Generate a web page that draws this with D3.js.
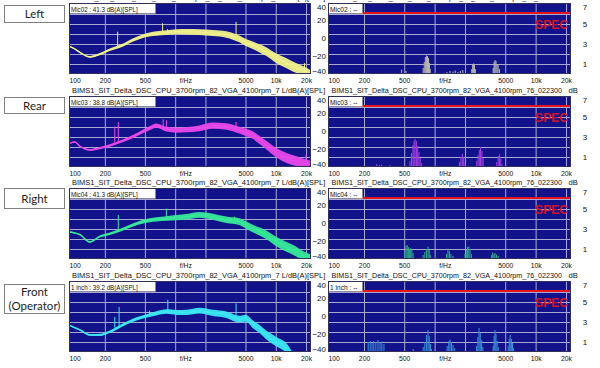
<!DOCTYPE html>
<html><head><meta charset="utf-8">
<script src="https://cdn.jsdelivr.net/npm/d3@7"></script>
<style>body{margin:0;background:#fff}svg{display:block}</style>
</head><body>
<svg id="c" width="600" height="368"></svg>
<script>
// ---------------- data ----------------
const rowNames = [["Left"], ["Rear"], ["Right"], ["Front", "(Operator)"]];
const micNames = ["Mic02", "Mic03", "Mic04", "1 inch"];
const micLevels = ["41.3", "38.8", "41.3", "39.2"];
const leftTitle = "BIMS1_SIT_Delta_DSC_CPU_3700rpm_82_VGA_4100rpm_7 L/dB(A)[SPL]";
const rightTitle = "BIMS1_SIT_Delta_DSC_CPU_3700rpm_82_VGA_4100rpm_76_022300";
const rightUnit = "dB";

const xTickValues = [100, 200, 500, 1000, 5000, 10000, 20000];
const xTickLabels = ["100", "200", "500", "f/Hz", "5000", "10k", "20k"];
const gridFreqs = [200, 500, 1000, 2000, 5000, 10000, 20000];
const dbTicks = [40, 20, 0, -20, -40];
const unitTicks = [7, 5, 3, 1];
const unitGrid = [1, 2, 3, 4, 5, 6];
const specLevel = 6.1;
const specStartFreq = 160;

// SPL spectra (dB) on a shared frequency grid
const freqGrid = [88, 100, 113, 142, 178, 224, 300, 383, 556, 650, 818, 1030, 1300, 1740, 2370, 3220, 4340, 5040, 5900, 6900, 8020, 10100, 12800, 14900, 19300, 22400];
const splLeft  = [-9, -12, -16, -21, -18, -13, -8, -2, 4, 5, 6, 7, 7, 6.5, 5.5, 4, -1, -5, -8, -11.5, -15, -22.5, -28, -32, -37, -41];
const splRear  = [-14, -12, -17, -21, -19, -16, -11, -6, 3, 6, 2, 1, 1.5, 3, 6, 5, 1, -1.5, -4.5, -10, -15.5, -24, -30, -32.5, -36, -38];
const splRight = [-10, -11, -13, -21, -15, -12, -7, -2, 3, 4, 5, 6, 7, 9, 7, 3.5, 1.5, -2, -6, -9.5, -13, -20.5, -26.5, -30, -37, -40];
const splFront = [-10, -13, -15.5, -21, -21, -17.5, -10, -4.5, 1, 3, 5, 4, 4, 6, 3.5, 1.5, -3.5, -2.5, -9, -14.5, -21, -28.5, -36, -47, null, null];
const noiseHalfWidth = [0.7, 0.7, 0.8, 1, 1.2, 1.4, 1.6, 1.8, 2.2, 2.4, 2.6, 2.8, 3, 3.2, 3.4, 3.6, 3.8, 4, 4.2, 4.5, 4.8, 5.2, 5.5, 5.5, 5, 5];

// tonal spikes: [freq, base dB, top dB]
const spikesLeft  = [[268, -11, 7], [750, 5, 16.5], [840, 6, 10], [4030, 0, 18], [19300, -36, -28]];
const spikesRear  = [[251, -13, 5], [272, -12, 10], [760, 2, 13], [818, 2, 12], [4030, 1, 10], [20000, -36, -26]];
const spikesRight = [[272, -9, 9], [818, 5, 16], [3900, 2, 7]];
const spikesFront = [[251, -13, -1], [277, -12, 10], [556, 1, 6], [845, 5, 18], [4030, -3, 14]];

// right-hand spectra: [freq, value on 0..7 scale]
const barsLeft = [[471, 0.45], [520, 0.3],
  [770, 0.6], [790, 1.2], [810, 1.7], [830, 1.85], [850, 1.8], [870, 1.6], [890, 1.1], [905, 0.5],
  [1320, 0.2], [1420, 0.3], [1520, 0.25], [1600, 0.35], [1700, 0.2], [1800, 0.3], [1900, 0.4],
  [2330, 0.5], [2380, 0.9], [2430, 1.05], [2480, 0.95], [2530, 0.5],
  [3800, 0.6], [3880, 1.2], [3960, 1.4], [4050, 1.3], [4150, 1.0], [4250, 0.9], [4380, 0.5]];
const barsRear = [[267, 0.3], [285, 0.2], [299, 0.25], [362, 0.2],
  [570, 0.6], [590, 1.4], [610, 2.2], [625, 2.6], [640, 2.8], [660, 2.6], [680, 2.1], [700, 1.5], [720, 0.9], [745, 0.4],
  [1760, 0.5], [1820, 1.0], [1880, 1.3], [1940, 1.0], [2000, 0.4],
  [2610, 0.6], [2690, 1.2], [2770, 1.7], [2850, 2.0], [2940, 1.6], [3020, 0.9],
  [4120, 0.5], [4260, 1.1], [4400, 1.3], [4520, 0.8], [4640, 0.3]];
const barsRight = [[508, 0.8], [522, 1.3], [536, 1.4], [550, 1.2], [565, 1.0], [580, 1.1], [595, 0.9], [612, 0.6],
  [770, 0.4], [800, 0.7], [830, 1.0], [860, 1.25], [885, 0.9], [905, 0.4],
  [1310, 0.5], [1355, 1.05], [1400, 0.8], [1450, 0.5], [1520, 0.3],
  [2000, 0.5], [2060, 0.9], [2120, 1.2], [2180, 1.25], [2240, 1.0], [2310, 0.5],
  [3670, 0.4], [3760, 0.65], [3860, 0.5], [3960, 0.6], [4100, 0.45], [4260, 0.3]];
const barsFront = [[220, 1.0], [230, 1.1], [240, 0.9], [250, 1.1], [262, 1.0], [275, 1.2], [288, 1.0], [300, 1.05], [315, 0.8],
  [614, 0.3],
  [770, 0.5], [800, 1.0], [830, 1.7], [860, 2.2], [885, 1.6], [910, 0.8], [930, 0.3],
  [1330, 0.6], [1380, 1.1], [1420, 1.25], [1470, 1.0], [1520, 0.7], [1580, 0.4],
  [2600, 0.6], [2680, 1.5], [2750, 2.4], [2830, 1.9], [2920, 1.2], [3000, 0.5],
  [3800, 0.6], [3880, 1.6], [3960, 2.2], [4050, 1.8], [4150, 1.1], [4260, 0.5],
  [5350, 0.6], [5480, 1.3], [5600, 1.7], [5750, 1.3], [5900, 0.9], [6050, 0.4]];

const lineColors = ["#f2f28a", "#e848e8", "#38ea98", "#3ce8f2"];
const barColors = ["#b4b4b4", "#a040e0", "#2ea88a", "#3a8ed8"];

// ---------------- layout ----------------
const rowBottoms = [74, 167, 259, 352];
const plotH = 71;
const LX0 = 69, LX1 = 311, RX0 = 328, RX1 = 571;
const fDomain = [88, 22400];
const NAVY = "#12128a", GRID = "#a8a8d4", FONT = "'Liberation Sans', Arial, sans-serif";
const labelBoxY = [5, 97, 188, 284], labelBoxH = [17, 16, 20, 29];

const rows = [0, 1, 2, 3].map(i => ({
  names: rowNames[i], mic: micNames[i], level: micLevels[i],
  spl: [splLeft, splRear, splRight, splFront][i],
  spikes: [spikesLeft, spikesRear, spikesRight, spikesFront][i],
  bars: [barsLeft, barsRear, barsRight, barsFront][i],
  lc: lineColors[i], bc: barColors[i]
}));

const svg = d3.select("#c");
const defs = svg.append("defs");

// condensed text helper (the source screenshot is horizontally squeezed)
function sText(parent, x, y, txt, size, sx, opts = {}) {
  const t = parent.append("text")
    .attr("transform", `translate(${x},${y}) scale(${sx},1)`)
    .attr("font-family", FONT).attr("font-size", size)
    .attr("fill", opts.fill || "#111")
    .attr("text-anchor", opts.anchor || "start")
    .text(txt);
  if (opts.bold) t.attr("font-weight", "bold");
  return t;
}

rows.forEach((r, i) => {
  const bottom = rowBottoms[i], top = bottom - plotH;
  const xL = d3.scaleLog().domain(fDomain).range([LX0, LX1]);
  const xR = d3.scaleLog().domain(fDomain).range([RX0, RX1]);
  const yDb = d3.scaleLinear().domain([-40, 38.9]).range([bottom, top]);
  const yU = d3.scaleLinear().domain([0, 7.1]).range([bottom, top]);
  const g = svg.append("g");

  ["L", "R"].forEach(s => {
    defs.append("clipPath").attr("id", `clip${s}${i}`).append("rect")
      .attr("x", s === "L" ? LX0 : RX0).attr("y", top)
      .attr("width", s === "L" ? LX1 - LX0 : RX1 - RX0).attr("height", plotH);
  });

  // titles
  sText(g, 72, top - 3, leftTitle, 8, 0.935);
  sText(g, 331.5, top - 3, rightTitle, 8, 0.895);
  sText(g, 568.5, top - 3, rightUnit, 8, 0.95);

  // row label box
  g.append("rect").attr("x", 4.5).attr("y", labelBoxY[i] + 0.5).attr("width", 60).attr("height", labelBoxH[i])
    .attr("fill", "#fff").attr("stroke", "#808080");
  const n = r.names.length;
  r.names.forEach((t, k) => {
    g.append("text").attr("x", 34.5)
      .attr("y", labelBoxY[i] + labelBoxH[i] / 2 + 0.5 + (k - (n - 1) / 2) * 13.4)
      .attr("dy", "0.35em").attr("text-anchor", "middle")
      .attr("font-family", "Lato, 'Open Sans', sans-serif").attr("font-size", 11.5).attr("fill", "#222").text(t);
  });

  // ---------- left plot ----------
  const pl = g.append("g");
  pl.append("rect").attr("x", LX0).attr("y", top).attr("width", LX1 - LX0).attr("height", plotH).attr("fill", NAVY);
  const cl = pl.append("g").attr("clip-path", `url(#clipL${i})`);
  cl.selectAll("line.v").data(gridFreqs).join("line")
    .attr("x1", d => xL(d) + 0.5).attr("x2", d => xL(d) + 0.5).attr("y1", top).attr("y2", bottom)
    .attr("stroke", GRID).attr("stroke-width", 1);
  cl.selectAll("line.h").data(unitGrid).join("line")
    .attr("x1", LX0).attr("x2", LX1).attr("y1", d => yU(d) + 0.5).attr("y2", d => yU(d) + 0.5)
    .attr("stroke", GRID).attr("stroke-width", 1);
  const pts = freqGrid.map((f, k) => ({ f, v: r.spl[k], h: noiseHalfWidth[k] }));
  const area = d3.area().defined(d => d.v != null).x(d => xL(d.f))
    .y0(d => yDb(d.v - d.h)).y1(d => yDb(d.v + d.h)).curve(d3.curveMonotoneX);
  const line = d3.line().defined(d => d.v != null).x(d => xL(d.f)).y(d => yDb(d.v)).curve(d3.curveMonotoneX);
  cl.append("path").attr("d", area(pts)).attr("fill", r.lc).attr("fill-opacity", 0.95);
  cl.append("path").attr("d", line(pts)).attr("fill", "none").attr("stroke", r.lc).attr("stroke-width", 1.3);
  cl.selectAll("line.s").data(r.spikes).join("line")
    .attr("x1", d => xL(d[0])).attr("x2", d => xL(d[0])).attr("y1", d => yDb(d[1])).attr("y2", d => yDb(d[2]))
    .attr("stroke", r.lc).attr("stroke-width", 1);
  pl.append("rect").attr("x", LX0 + 0.5).attr("y", top + 0.5).attr("width", 86).attr("height", 10)
    .attr("fill", "#fff").attr("stroke", "#888").attr("stroke-width", 0.6);
  sText(pl, LX0 + 2, top + 8.5, `${r.mic} : ${r.level} dB(A)[SPL]`, 7.8, 0.8);
  pl.append("rect").attr("x", LX0 + 0.5).attr("y", top + 0.5).attr("width", LX1 - LX0 - 1).attr("height", plotH - 1)
    .attr("fill", "none").attr("stroke", "#30305a");

  // ---------- right plot ----------
  const pr = g.append("g");
  pr.append("rect").attr("x", RX0).attr("y", top).attr("width", RX1 - RX0).attr("height", plotH).attr("fill", NAVY);
  const cr = pr.append("g").attr("clip-path", `url(#clipR${i})`);
  cr.selectAll("line.v").data(gridFreqs).join("line")
    .attr("x1", d => xR(d) + 0.5).attr("x2", d => xR(d) + 0.5).attr("y1", top).attr("y2", bottom)
    .attr("stroke", GRID).attr("stroke-width", 1);
  cr.selectAll("line.h").data(unitGrid).join("line")
    .attr("x1", RX0).attr("x2", RX1).attr("y1", d => yU(d) + 0.5).attr("y2", d => yU(d) + 0.5)
    .attr("stroke", GRID).attr("stroke-width", 1);
  cr.selectAll("rect.b").data(r.bars).join("rect")
    .attr("x", d => xR(d[0] / 1.012)).attr("width", d => xR(d[0] * 1.012) - xR(d[0] / 1.012))
    .attr("y", d => yU(d[1])).attr("height", d => bottom - yU(d[1]))
    .attr("fill", r.bc);
  cr.append("line").attr("x1", xR(specStartFreq)).attr("x2", RX1).attr("y1", yU(specLevel)).attr("y2", yU(specLevel))
    .attr("stroke", "#e8141c").attr("stroke-width", 2);
  sText(cr, 568, top + 26, "SPEC", 13, 0.93, { anchor: "end", bold: true, fill: "#d0142e" });
  pr.append("rect").attr("x", RX0 + 0.5).attr("y", top + 0.5).attr("width", 34).attr("height", 10)
    .attr("fill", "#fff").attr("stroke", "#888").attr("stroke-width", 0.6);
  sText(pr, RX0 + 2, top + 8.5, `${r.mic} : --`, 7.8, 0.85);
  pr.append("rect").attr("x", RX0 + 0.5).attr("y", top + 0.5).attr("width", RX1 - RX0 - 1).attr("height", plotH - 1)
    .attr("fill", "none").attr("stroke", "#30305a");

  // ---------- axes ----------
  [xL, xR].forEach(xs => {
    const ax = g.append("g").attr("transform", `translate(0,${bottom})`)
      .call(d3.axisBottom(xs).tickValues(xTickValues).tickFormat((d, k) => xTickLabels[k]).tickSize(0).tickPadding(3));
    ax.select(".domain").remove();
    ax.selectAll("text").attr("font-family", FONT).attr("font-size", 8).attr("fill", "#111")
      .attr("transform", "scale(0.85,1)")
      .attr("x", d => d === 1000 ? 12 : 0);
  });
  const clampY = y => Math.min(Math.max(y, top + 4), bottom - 3);
  const axL = g.append("g").attr("transform", `translate(${RX0},0)`)
    .call(d3.axisLeft(yDb).tickValues(dbTicks).tickFormat(d3.format("d")).tickSize(0).tickPadding(2));
  axL.select(".domain").remove();
  axL.selectAll(".tick").attr("transform", d => `translate(0,${clampY(yDb(d))})`);
  axL.selectAll("text").attr("font-family", FONT).attr("font-size", 8).attr("fill", "#111");
  const axR = g.append("g").attr("transform", `translate(${RX1},0)`)
    .call(d3.axisRight(yU).tickValues(unitTicks).tickSize(0).tickPadding(14));
  axR.select(".domain").remove();
  axR.selectAll(".tick").attr("transform", d => `translate(0,${clampY(yU(d))})`);
  axR.selectAll("text").attr("font-family", FONT).attr("font-size", 8).attr("fill", "#111").attr("text-anchor", "middle");
});
</script>
</body></html>
